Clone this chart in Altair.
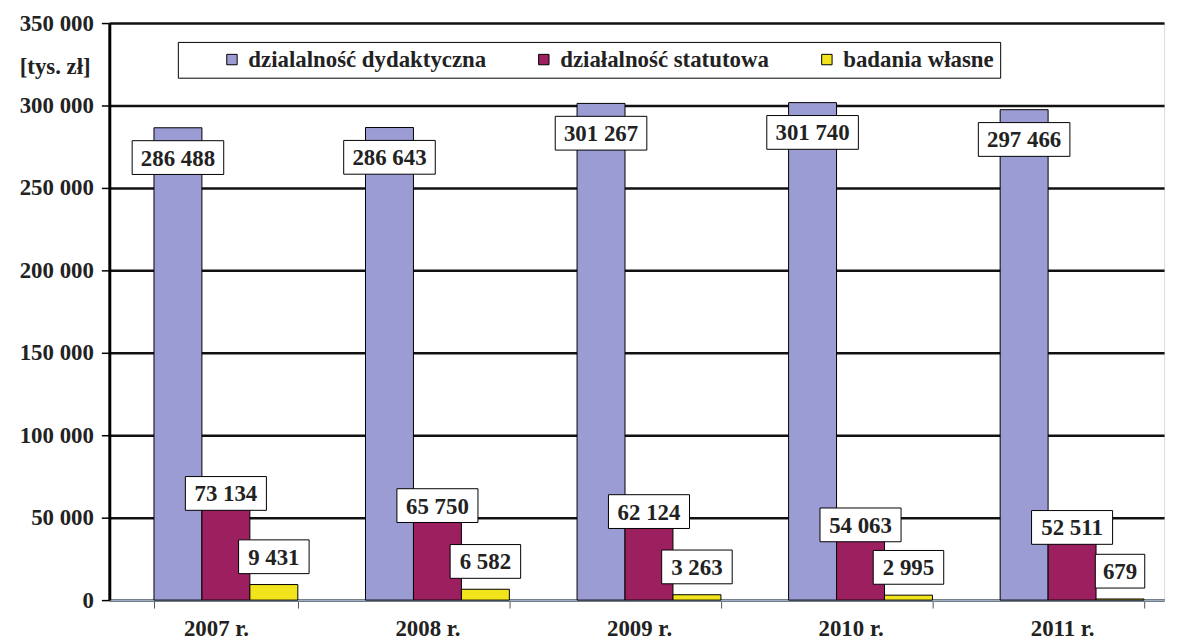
import altair as alt
import pandas as pd

years = ["2007 r.", "2008 r.", "2009 r.", "2010 r.", "2011 r."]
series_names = ["dzialalność dydaktyczna", "działalność statutowa", "badania własne"]
dydaktyczna = [286488, 286643, 301267, 301740, 297466]
statutowa = [73134, 65750, 62124, 54063, 52511]
badania = [9431, 6582, 3263, 2995, 679]
y_ticks = [0, 50000, 100000, 150000, 200000, 250000, 300000, 350000]
colors = ["#9C9CD4", "#9C1F60", "#F2E41C"]
label_dy = [30, 14, -28]

rows = []
for i, yr in enumerate(years):
    for s, vals in zip(series_names, [dydaktyczna, statutowa, badania]):
        rows.append({"year": yr, "series": s, "value": vals[i]})
df = pd.DataFrame(rows)

FONT = "Liberation Serif, Times New Roman, Times, serif"
FS = 23
NB = "\u00a0"

x_enc = alt.X(
    "year:N",
    scale=alt.Scale(domain=years, paddingInner=0.32, paddingOuter=0.153, align=0.69),
    axis=alt.Axis(
        title=None, labelAngle=0, labelFont=FONT, labelFontSize=FS, labelFontWeight="bold",
        labelColor="#222222", labelPadding=10, labelOffset=-10, tickBand="extent", tickSize=8,
        tickColor="#555555", domainColor="#9BB0C4", domainWidth=2, grid=False,
    ),
)
xoff_enc = alt.XOffset("series:N", scale=alt.Scale(domain=series_names, paddingInner=0, paddingOuter=0))
y_enc = alt.Y(
    "value:Q",
    scale=alt.Scale(domain=[0, 350000], nice=False),
    axis=alt.Axis(
        values=y_ticks, format=",d", title="[tys. zł]", titleAngle=0, titleX=-55, titleY=44,
        titleAlign="center", titleBaseline="middle", titleFont=FONT, titleFontSize=FS,
        titleFontWeight="bold", titleColor="#222222",
        labelFont=FONT, labelFontSize=FS, labelFontWeight="bold", labelColor="#222222",
        labelPadding=8, tickSize=8, tickColor="black", tickWidth=1.5,
        domainColor="black", domainWidth=3, grid=True, gridColor="#111111", gridWidth=2.5,
    ),
)

last_label = series_names[-1]
bars = alt.Chart(df).mark_bar(stroke="black", strokeWidth=1).encode(
    x=x_enc,
    xOffset=xoff_enc,
    y=y_enc,
    color=alt.Color(
        "series:N",
        scale=alt.Scale(domain=series_names, range=colors),
        legend=alt.Legend(
            title=NB, titleOrient="left", titlePadding=37, orient="none",
            legendX=69, legendY=19, direction="horizontal",
            fillColor="white", strokeColor="black", padding=6,
            symbolType="square", symbolSize=110, symbolStrokeColor="black",
            symbolStrokeWidth=1, symbolOpacity=1,
            labelFont=FONT, labelFontSize=FS, labelFontWeight="bold", labelColor="#222222",
            labelLimit=500, columnPadding=46, labelOffset=5,
            labelExpr=f"datum.label == '{last_label}' ? datum.label + '{NB * 6}' : datum.label",
        ),
    ),
)

layers = [bars]
for s, dy in zip(series_names, label_dy):
    base = (
        alt.Chart(df)
        .transform_filter(alt.FieldEqualPredicate(field="series", equal=s))
        .transform_calculate(w="length(format(datum.value, ',d')) * 5.3 + 9")
        .transform_calculate(
            box="'M' + (-datum.w) + ',-17L' + datum.w + ',-17L' + datum.w + ',17L' + (-datum.w) + ',17Z'"
        )
    )
    boxes = base.mark_point(
        filled=True, fill="white", stroke="black", strokeWidth=1, opacity=1, size=4, yOffset=dy
    ).encode(x=x_enc, xOffset=xoff_enc, y=y_enc, shape=alt.Shape("box:N", scale=None))
    texts = base.mark_text(
        font=FONT, fontSize=FS, fontWeight="bold", color="#222222", baseline="middle", yOffset=dy + 1
    ).encode(x=x_enc, xOffset=xoff_enc, y=y_enc, text=alt.Text("value:Q", format=",d"))
    layers += [boxes, texts]

chart = (
    alt.layer(*layers)
    .properties(
        width=1062, height=581,
        autosize=alt.AutoSizeParams(type="none"),
        padding={"left": 102, "top": 13, "right": 9, "bottom": 38},
        background="white",
    )
    .configure_view(fill="#EFF4E3", stroke=None)
    .configure(locale={"number": {"decimal": ",", "thousands": " ", "grouping": [3], "currency": ["", ""]}})
)

chart.save("out.html", embed_options={"renderer": "svg", "actions": False})
